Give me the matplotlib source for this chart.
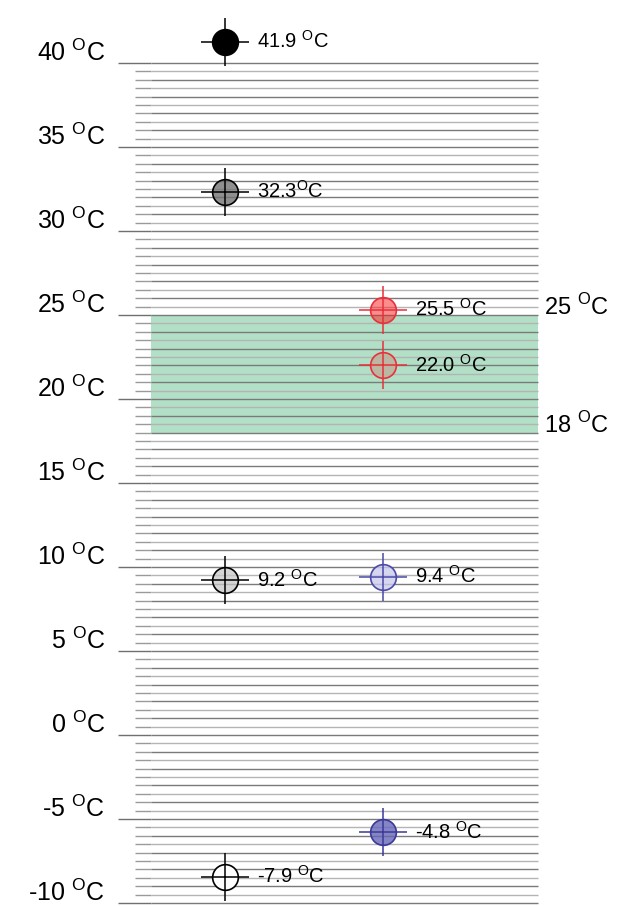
import matplotlib
matplotlib.use("Agg")
import matplotlib.pyplot as plt
import numpy as np


# --------------------------------------------------------
# Data
# --------------------------------------------------------

COLUMN = [0, 0, 1, 1, 0, 1, 1, 0]

TEMPS = [41.25, 32.3, 25.3, 22.0, 9.2, 9.4, -5.8, -8.45]

DEG = "$^{\\rm O}$C"

LABELS = [
    "41.9 " + DEG,
    "32.3" + DEG,
    "25.5 " + DEG,
    "22.0 " + DEG,
    "9.2 " + DEG,
    "9.4 " + DEG,
    "-4.8 " + DEG,
    "-7.9 " + DEG,
]

FACES = [
    (0.0, 0.0, 0.0, 1.0),
    (0.45, 0.45, 0.45, 0.8),
    (1.0, 0.1, 0.1, 0.5),
    (0.74, 0.70, 0.62, 0.9),
    (0.78, 0.78, 0.78, 0.75),
    (0.80, 0.80, 0.93, 0.8),
    (0.40, 0.40, 0.72, 0.8),
    (1.0, 1.0, 1.0, 1.0),
]

EDGES = ["black", "black", "#e8303a", "#e8303a",
         "black", "#4a4aa8", "#3a3a98", "black"]

MAJOR = list(range(-10, 41, 5))

COMFORT_LOW = 18
COMFORT_HIGH = 25


def main():

    plt.rcParams["font.family"] = ["Liberation Sans", "DejaVu Sans"]
    plt.rcParams["mathtext.fontset"] = "custom"
    plt.rcParams["mathtext.rm"] = "Liberation Sans"

    fig = plt.figure(figsize=(6.34, 9.06), dpi=100)

    ax = fig.add_axes([151 / 634, 3 / 906, 387 / 634, 883.7 / 906])

    ax.set_xlim(-0.468, 1.98)
    ax.set_ylim(-10, 42.6)

    # --------------------------------------------------------
    # Grid lines and ticks
    # --------------------------------------------------------

    levels = np.arange(-10, 40.01, 0.5)

    colors = ["#7a7a7a" if lv % 1 == 0 else "#b4b4b4" for lv in levels]

    ax.hlines(levels, 0, 1, transform=ax.get_yaxis_transform(),
              colors=colors, linewidth=1.0, zorder=2, clip_on=False)

    ax.set_yticks(MAJOR)
    ax.set_yticks(levels, minor=True)
    ax.set_yticklabels([])
    ax.tick_params(axis="y", which="major", length=23.8, width=1.0,
                   color="#707070")
    ax.tick_params(axis="y", which="minor", length=11.5, width=1.0,
                   color="#9a9a9a")

    for spine in ax.spines.values():
        spine.set_visible(False)
    ax.set_xticks([])

    for v in MAJOR:
        ax.annotate(f"{v} " + DEG, xy=(0, v),
                    xycoords=("axes fraction", "data"),
                    xytext=(-46, 2), textcoords="offset pixels",
                    ha="right", va="baseline", fontsize=18)

    # --------------------------------------------------------
    # Comfort band
    # --------------------------------------------------------

    ax.axhspan(COMFORT_LOW, COMFORT_HIGH, xmin=0, xmax=1,
               color="#3cb371", alpha=0.4, lw=0, zorder=1)

    for v in [COMFORT_HIGH, COMFORT_LOW]:
        ax.annotate(f"{v} " + DEG, xy=(1, v),
                    xycoords=("axes fraction", "data"),
                    xytext=(6, 0), textcoords="offset pixels",
                    ha="left", va="baseline", fontsize=17)

    # --------------------------------------------------------
    # Markers
    # --------------------------------------------------------

    for x, t, lab, fc, ec in zip(COLUMN, TEMPS, LABELS, FACES, EDGES):

        ax.plot(x, t, "o", markersize=18.5, markerfacecolor=fc,
                markeredgecolor=ec, markeredgewidth=1.2,
                zorder=3, clip_on=False)

        ax.plot(x, t, "+", markersize=35, color=ec,
                markeredgewidth=1.1, zorder=4, clip_on=False)

        ax.annotate(lab, xy=(x, t), xytext=(32, 1),
                    textcoords="offset pixels", ha="left", va="center",
                    fontsize=14.5, zorder=5)

    fig.savefig("out.png", dpi=100)


if __name__ == "__main__":
    main()
